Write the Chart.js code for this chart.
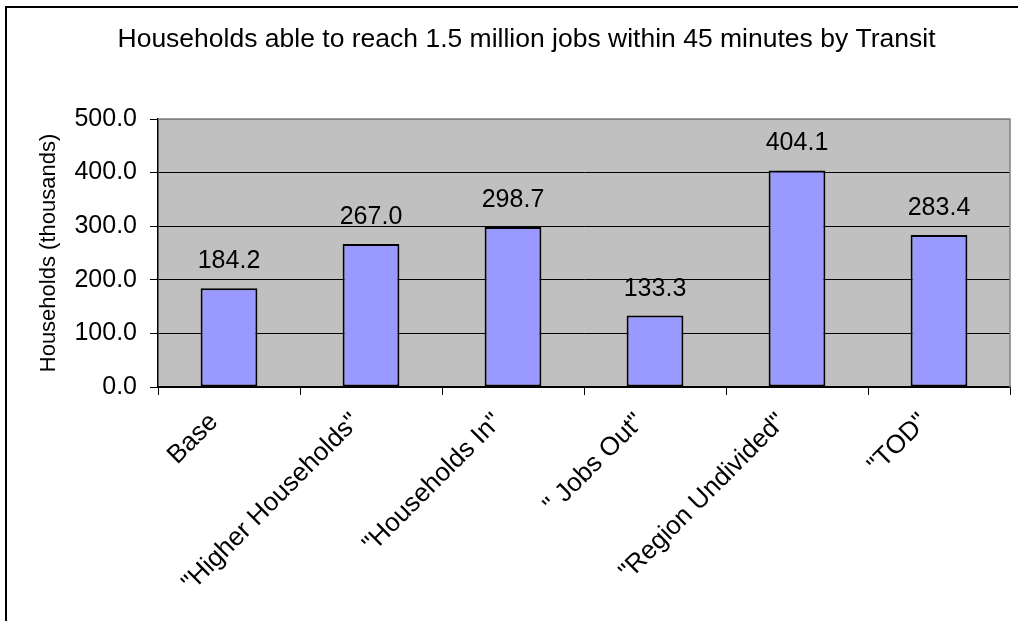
<!DOCTYPE html>
<html>
<head>
<meta charset="utf-8">
<script src="https://cdn.jsdelivr.net/npm/chart.js@4/dist/chart.umd.min.js"></script>
<style>
  html, body { margin: 0; padding: 0; background: #ffffff; }
  #wrap { width: 1018px; height: 621px; position: relative; }
</style>
</head>
<body>
<div id="wrap"><canvas id="chart" width="1018" height="621"></canvas></div>
<script>
// Scenario names and households reachable (thousands)
const categories = ['Base', '"Higher Households"', '"Households In"', '" Jobs Out"', '"Region Undivided"', '"TOD"'];
const households = [184.2, 267.0, 298.7, 133.3, 404.1, 283.4];
const yTicks = [0, 100, 200, 300, 400, 500];

const chartTitle = 'Households able to reach 1.5 million jobs within 45 minutes by Transit';
const yAxisTitle = 'Households (thousands)';

const FONT = '"Liberation Sans", Arial, sans-serif';

// Page frame, grey plot background and the plot border
const framePlugin = {
  id: 'frame',
  beforeDraw(chart) {
    const { ctx, chartArea: a } = chart;
    ctx.save();
    ctx.fillStyle = '#ffffff';
    ctx.fillRect(0, 0, chart.width, chart.height);
    ctx.strokeStyle = '#000000';
    ctx.lineWidth = 2;
    ctx.strokeRect(6, 7, chart.width + 100, chart.height + 100);
    ctx.fillStyle = '#c0c0c0';
    ctx.fillRect(a.left, a.top, a.right - a.left, a.bottom - a.top);
    ctx.restore();
  },
  afterDatasetsDraw(chart) {
    const { ctx, chartArea: a } = chart;
    ctx.save();
    ctx.strokeStyle = '#808080';
    ctx.lineWidth = 1.5;
    ctx.beginPath();
    ctx.moveTo(a.left, a.top);
    ctx.lineTo(a.right, a.top);
    ctx.lineTo(a.right, a.bottom);
    ctx.stroke();
    ctx.restore();
  }
};

// Value labels above each bar
const valueLabels = {
  id: 'valueLabels',
  afterDatasetsDraw(chart) {
    const { ctx } = chart;
    const meta = chart.getDatasetMeta(0);
    ctx.save();
    ctx.font = '25px ' + FONT;
    ctx.fillStyle = '#000000';
    ctx.textAlign = 'center';
    ctx.textBaseline = 'alphabetic';
    meta.data.forEach((bar, i) => {
      ctx.fillText(households[i].toFixed(1), bar.x, bar.y - 20);
    });
    ctx.restore();
  }
};

new Chart(document.getElementById('chart'), {
  type: 'bar',
  data: {
    labels: categories,
    datasets: [{
      data: households,
      backgroundColor: '#9999ff',
      borderColor: '#000000',
      borderWidth: 2,
      borderSkipped: false,
      categoryPercentage: 1,
      barPercentage: 0.4
    }]
  },
  options: {
    responsive: false,
    animation: false,
    devicePixelRatio: 1,
    layout: { padding: { top: 0, left: 43, right: 8, bottom: 0 } },
    plugins: {
      legend: { display: false },
      tooltip: { enabled: false },
      title: {
        display: true,
        text: chartTitle,
        color: '#000000',
        font: { family: FONT, size: 26.5, weight: 'normal', lineHeight: 1.2 },
        padding: { top: 24, bottom: 63.2 }
      }
    },
    scales: {
      x: {
        offset: true,
        grid: {
          offset: true,
          drawOnChartArea: false,
          drawTicks: true,
          tickLength: 8,
          color: '#000000',
          lineWidth: 1
        },
        border: { display: true, color: '#000000', width: 1.5 },
        ticks: {
          autoSkip: false,
          minRotation: 45,
          maxRotation: 45,
          padding: 12,
          labelOffset: -15,
          color: '#000000',
          font: { family: FONT, size: 26 }
        },
        afterFit(scale) { scale.height = 234; }
      },
      y: {
        min: yTicks[0],
        max: yTicks[yTicks.length - 1],
        grid: {
          color: (c) => (c.tick && c.tick.value === yTicks[yTicks.length - 1]) ? '#808080' : '#000000',
          tickColor: '#000000',
          lineWidth: 1,
          drawTicks: true,
          tickLength: 8
        },
        border: { display: true, color: '#000000', width: 1.5 },
        ticks: {
          stepSize: yTicks[1] - yTicks[0],
          padding: 13,
          color: '#000000',
          font: { family: FONT, size: 25 },
          callback: (v) => Number(v).toFixed(1)
        },
        title: {
          display: true,
          text: yAxisTitle,
          color: '#000000',
          font: { family: FONT, size: 22, lineHeight: 1 },
          padding: { top: -5, bottom: 0 }
        },
        afterFit(scale) { scale.width = 115; }
      }
    }
  },
  plugins: [framePlugin, valueLabels]
});
</script>
</body>
</html>
